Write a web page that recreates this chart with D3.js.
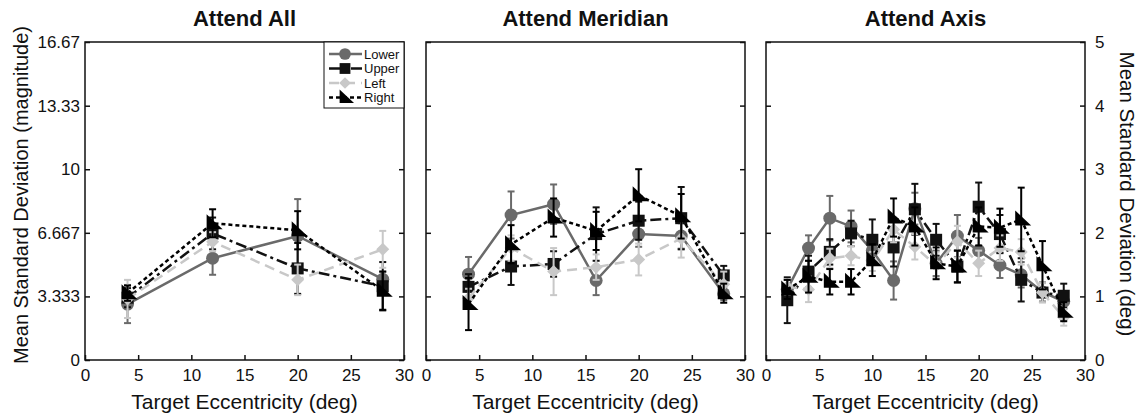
<!DOCTYPE html>
<html>
<head>
<meta charset="utf-8">
<script src="https://cdn.jsdelivr.net/npm/d3@7"></script>
<style>
  body { margin: 0; background: #fff; }
  text { font-family: "Liberation Sans", Arial, Helvetica, sans-serif; fill: #111; }
</style>
</head>
<body>
<svg id="chart"></svg>
<script>
// Panel titles and x positions (target eccentricity, deg)
const panelTitles = ["Attend All", "Attend Meridian", "Attend Axis"];
const eccAll = [4, 12, 20, 28];
const eccMeridian = [4, 8, 12, 16, 20, 24, 28];
const eccAxis = [2, 4, 6, 8, 10, 12, 14, 16, 18, 20, 22, 24, 26, 28];

// Series names
const seriesNames = ["Lower", "Upper", "Left", "Right"];

// Values in deg (right axis), error bar half-lengths in deg
const allLower = [0.88, 1.60, 1.95, 1.27];
const allUpper = [0.98, 1.99, 1.44, 1.16];
const allLeft = [0.96, 1.86, 1.26, 1.74];
const allRight = [1.05, 2.15, 2.04, 1.09];
const allLowerErr = [0.3, 0.26, 0.58, 0.12];
const allUpperErr = [0.15, 0.25, 0.4, 0.38];
const allLeftErr = [0.3, 0.15, 0.24, 0.29];
const allRightErr = [0.12, 0.22, 0.3, 0.3];

const merLower = [1.35, 2.28, 2.45, 1.25, 1.98, 1.95, 1.04];
const merUpper = [1.15, 1.47, 1.51, 1.98, 2.19, 2.23, 1.33];
const merLeft = [0.97, 1.76, 1.39, 1.46, 1.58, 1.91, 1.19];
const merRight = [0.88, 1.82, 2.24, 2.03, 2.59, 2.26, 1.05];
const merLowerErr = [0.27, 0.37, 0.31, 0.23, 0.2, 0.2, 0.1];
const merUpperErr = [0.2, 0.29, 0.2, 0.42, 0.3, 0.49, 0.15];
const merLeftErr = [0.15, 0.2, 0.37, 0.2, 0.25, 0.3, 0.2];
const merRightErr = [0.41, 0.3, 0.3, 0.3, 0.41, 0.35, 0.15];

const axLower = [1.11, 1.76, 2.23, 2.10, 1.72, 1.25, 2.38, 1.52, 1.95, 1.72, 1.49, 1.34, 1.07, 0.92];
const axUpper = [0.94, 1.39, 1.70, 1.99, 1.89, 1.77, 2.37, 1.89, 1.47, 2.41, 1.98, 1.26, 1.06, 1.01];
const axLeft = [1.15, 1.11, 1.60, 1.64, 1.55, 2.05, 1.78, 1.49, 1.86, 1.52, 1.76, 1.70, 1.06, 0.67];
const axRight = [1.11, 1.31, 1.23, 1.23, 1.57, 2.24, 2.10, 1.52, 1.47, 2.10, 2.08, 2.21, 1.49, 0.76];
const axLowerErr = [0.15, 0.2, 0.35, 0.25, 0.2, 0.3, 0.25, 0.2, 0.33, 0.2, 0.2, 0.2, 0.15, 0.12];
const axUpperErr = [0.36, 0.25, 0.2, 0.2, 0.32, 0.3, 0.4, 0.25, 0.25, 0.38, 0.3, 0.34, 0.15, 0.19];
const axLeftErr = [0.12, 0.2, 0.15, 0.15, 0.15, 0.2, 0.2, 0.2, 0.25, 0.2, 0.2, 0.2, 0.15, 0.13];
const axRightErr = [0.15, 0.25, 0.2, 0.2, 0.25, 0.3, 0.3, 0.25, 0.25, 0.3, 0.3, 0.5, 0.38, 0.15];

// Tick labels
const xTicks = [0, 5, 10, 15, 20, 25, 30];
const leftTickValues = [0, 3.333, 6.667, 10, 13.33, 16.67];
const leftTickLabels = ["0", "3.333", "6.667", "10", "13.33", "16.67"];
const rightTicks = [0, 1, 2, 3, 4, 5];

const panels = [
  { ecc: eccAll, vals: [allLower, allUpper, allLeft, allRight], errs: [allLowerErr, allUpperErr, allLeftErr, allRightErr] },
  { ecc: eccMeridian, vals: [merLower, merUpper, merLeft, merRight], errs: [merLowerErr, merUpperErr, merLeftErr, merRightErr] },
  { ecc: eccAxis, vals: [axLower, axUpper, axLeft, axRight], errs: [axLowerErr, axUpperErr, axLeftErr, axRightErr] }
];

const styles = [
  { color: "#6a6a6a", dash: null, width: 2.5, marker: "circle" },
  { color: "#111", dash: "11,4,3,4", width: 2.5, marker: "square" },
  { color: "#c8c8c8", dash: "10,6", width: 2.5, marker: "diamond" },
  { color: "#000", dash: "4,3", width: 2.5, marker: "wedge" }
];

const W = 1140, H = 415;
const panelLeft = [85, 426, 766];
const pw = 319, plotTop = 42, ph = 318;

const svg = d3.select("#chart").attr("width", W).attr("height", H);

const x = d3.scaleLinear().domain([0, 30]).range([0, pw]);
const y = d3.scaleLinear().domain([0, 5]).range([ph, 0]);
const yMag = d3.scaleLinear().domain([0, 16.67]).range([ph, 0]);

function drawMarker(g, type, color) {
  if (type === "circle") {
    g.append("circle").attr("r", 6.5).attr("fill", color);
  } else if (type === "square") {
    g.append("rect").attr("x", -6).attr("y", -6).attr("width", 12).attr("height", 12).attr("fill", color);
  } else if (type === "diamond") {
    g.append("path").attr("d", "M0,-6.5L6.5,0L0,6.5L-6.5,0Z").attr("fill", color);
  } else {
    g.append("path").attr("d", "M-6,-9L-6,6L10,6Z").attr("fill", color);
  }
}

panels.forEach((p, i) => {
  const g = svg.append("g").attr("transform", `translate(${panelLeft[i]},${plotTop})`);

  // frame
  g.append("rect").attr("width", pw).attr("height", ph)
    .attr("fill", "none").attr("stroke", "#111").attr("stroke-width", 1.5);

  // bottom axis, inward ticks
  const xa = g.append("g").attr("transform", `translate(0,${ph})`)
    .call(d3.axisBottom(x).tickValues(xTicks).tickSizeInner(-5).tickSizeOuter(0).tickPadding(9));
  // left / right inward ticks
  const yl = g.append("g").call(d3.axisLeft(yMag).tickValues(leftTickValues)
    .tickFormat((d, k) => leftTickLabels[k]).tickSizeInner(-5).tickSizeOuter(0).tickPadding(5));
  const yr = g.append("g").attr("transform", `translate(${pw},0)`)
    .call(d3.axisRight(y).tickValues(rightTicks).tickFormat(d3.format("d"))
      .tickSizeInner(-5).tickSizeOuter(0).tickPadding(10));

  [xa, yl, yr].forEach(a => {
    a.select(".domain").remove();
    a.selectAll("line").attr("stroke", "#111").attr("stroke-width", 1.5);
    a.selectAll("text").attr("font-size", 17).attr("fill", "#111")
      .style("font-family", '"Liberation Sans", Arial, sans-serif');
  });
  if (i !== 0) yl.selectAll("text").remove();
  if (i !== 2) yr.selectAll("text").remove();

  // title
  g.append("text").attr("x", pw / 2).attr("y", -16).attr("text-anchor", "middle")
    .attr("font-size", 22).attr("font-weight", "bold").text(panelTitles[i]);
  // x label
  g.append("text").attr("x", pw / 2).attr("y", ph + 49).attr("text-anchor", "middle")
    .attr("font-size", 21).text("Target Eccentricity (deg)");

  // series
  p.vals.forEach((vals, s) => {
    const st = styles[s];
    const pts = p.ecc.map((e, k) => ({ e: e, v: vals[k], err: p.errs[s][k] }));
    const sg = g.append("g");

    // error bars
    const eb = sg.selectAll(".eb").data(pts).join("g");
    eb.append("line")
      .attr("x1", d => x(d.e)).attr("x2", d => x(d.e))
      .attr("y1", d => y(d.v - d.err)).attr("y2", d => y(d.v + d.err))
      .attr("stroke", st.color).attr("stroke-width", 2);
    [-1, 1].forEach(sgn => {
      eb.append("line")
        .attr("x1", d => x(d.e) - 3.5).attr("x2", d => x(d.e) + 3.5)
        .attr("y1", d => y(d.v + sgn * d.err)).attr("y2", d => y(d.v + sgn * d.err))
        .attr("stroke", st.color).attr("stroke-width", 2);
    });

    sg.append("path").datum(pts)
      .attr("d", d3.line().x(d => x(d.e)).y(d => y(d.v)))
      .attr("fill", "none").attr("stroke", st.color).attr("stroke-width", st.width)
      .attr("stroke-dasharray", st.dash);

    sg.selectAll(".mk").data(pts).join("g")
      .attr("transform", d => `translate(${x(d.e)},${y(d.v)})`)
      .each(function () { drawMarker(d3.select(this), st.marker, st.color); });
  });

  // legend in first panel
  if (i === 0) {
    const lg = g.append("g").attr("transform", `translate(${pw - 80},0)`);
    lg.append("rect").attr("width", 80).attr("height", 66)
      .attr("fill", "#fff").attr("stroke", "#111").attr("stroke-width", 1);
    seriesNames.forEach((name, s) => {
      const st = styles[s];
      const ly = 12 + s * 14.5;
      lg.append("line").attr("x1", 5).attr("x2", 38).attr("y1", ly).attr("y2", ly)
        .attr("stroke", st.color).attr("stroke-width", 2.5).attr("stroke-dasharray", st.dash);
      const m = lg.append("g").attr("transform", `translate(21,${ly}) scale(0.9)`);
      drawMarker(m, st.marker, st.color);
      lg.append("text").attr("x", 40).attr("y", ly).attr("dy", "0.35em")
        .attr("font-size", 13).text(name);
    });
  }
});

// y axis titles
svg.append("text").attr("transform", `translate(28,195) rotate(-90)`)
  .attr("text-anchor", "middle").attr("font-size", 20)
  .text("Mean Standard Deviation (magnitude)");
svg.append("text").attr("transform", `translate(1120,194) rotate(90)`)
  .attr("text-anchor", "middle").attr("font-size", 20.5)
  .text("Mean Standard Deviation (deg)");
</script>
</body>
</html>
